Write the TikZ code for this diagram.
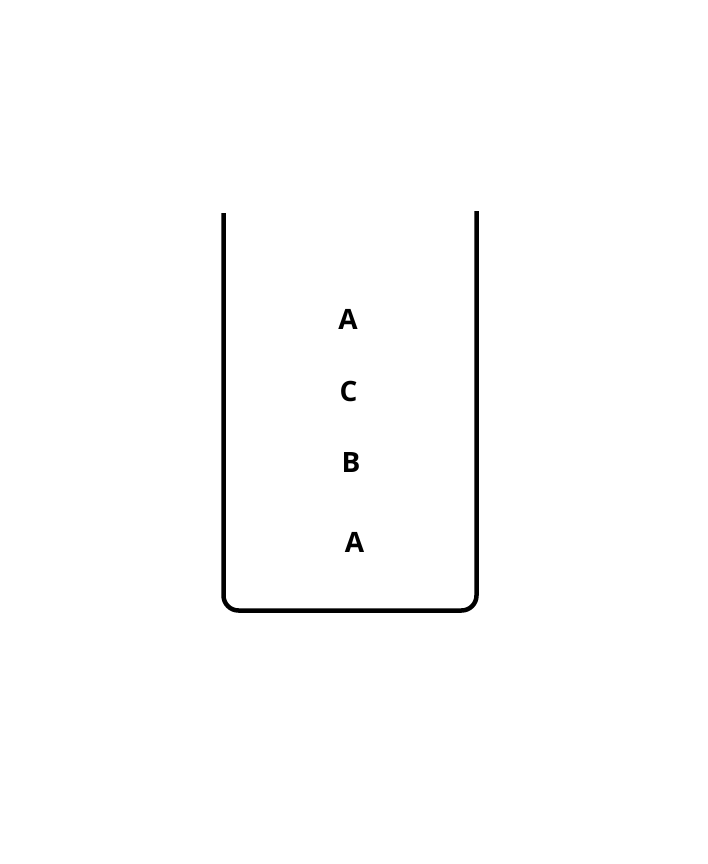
\documentclass[tikz,border=0pt]{standalone}
\usepackage{fontspec}
\setmainfont{Open Sans}
\begin{document}
\begin{tikzpicture}[x=1pt,y=-1pt,
  wall/.style={line width=4.5pt,line cap=butt,rounded corners=15pt},
  letter/.style={inner sep=0pt,font=\bfseries\fontsize{28}{28}\selectfont}]
\useasboundingbox[fill=white] (0,0) rectangle (707,864);
\coordinate (tl) at (223.5,213);
\coordinate (bl) at (223.5,610.5);
\coordinate (br) at (476.5,610.5);
\coordinate (tr) at (476.5,211);
\draw[wall] (tl) -- (bl) -- (br) -- (tr);
\node[letter] (a1) at (348,319.5) {A};
\node[letter] (c) at (348.5,391.5) {C};
\node[letter] (b) at (351,463) {B};
\node[letter] (a2) at (354.5,542) {A};
\end{tikzpicture}
\end{document}
